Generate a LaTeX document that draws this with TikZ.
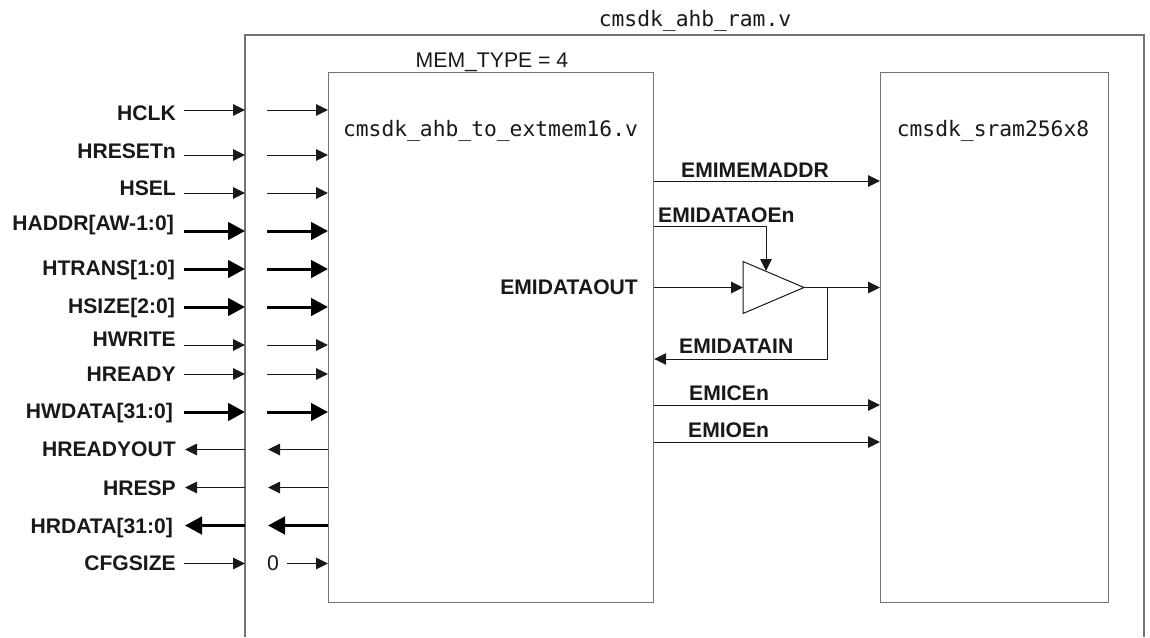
\documentclass[tikz,border=0pt]{standalone}
\usepackage{fontspec}
\setmainfont{Liberation Sans}
\newfontfamily\vmono{DejaVu Sans Mono}
\usetikzlibrary{arrows.meta,calc}
\tikzset{
  x=1pt,y=-1pt,
  thinsig/.style={draw=black!90,line width=1pt,-{Triangle[length=12pt,width=11.5pt]}},
  thicksig/.style={draw=black,line width=3pt,-{Triangle[length=17pt,width=17.5pt]}},
  wire/.style={draw=black!90,line width=1pt},
  boxframe/.style={draw=black!55,line width=1.2pt,fill=white,rectangle,inner sep=0pt,minimum width=#1,minimum height=530pt},
  outerframe/.style={draw=black!55,line width=1.5pt},
  sig/.style={font=\fontsize{21.1pt}{21pt}\selectfont\bfseries,text=black!90,inner sep=0pt},
  plain/.style={font=\fontsize{21.2pt}{21pt}\selectfont,text=black!90,inner sep=0pt},
  modname/.style={font=\fontsize{21.3pt}{21.3pt}\selectfont\vmono,text=black!90,inner sep=0pt},
  buf/.style={draw=black!90,line width=1pt,fill=white}
}
\begin{document}
\begin{tikzpicture}
\useasboundingbox (0,0) rectangle (1150,637);
\fill[white] (0,0) rectangle (1150,637);
% outer frame, open at the foot of the picture
\coordinate (oa) at (245,637);
\coordinate (ob) at (245,35);
\coordinate (oc) at (1144,35);
\coordinate (od) at (1144,637);
\draw[outerframe] (oa) -- (ob) -- (oc) -- (od);
% blocks
\node[boxframe=325pt,anchor=north west] (ext) at (328,72) {};
\node[boxframe=228pt,anchor=north west] (sram) at (880,72) {};
% titles
\node[modname,anchor=base] (tramv) at (695,26) {cmsdk\_ahb\_ram.v};
\node[modname,anchor=base] (text) at (490.5,136) {cmsdk\_ahb\_to\_extmem16.v};
\node[modname,anchor=base] (tsram) at (993,136) {cmsdk\_sram256x8};
\node[plain,anchor=base] (tmem) at (492,67) {MEM\_TYPE = 4};
% left-hand ports: #1 id, #2 y of wire, #3 baseline of label, #4 text, #5 style, #6 label right edge
\newcommand{\portin}[6]{%
  \node[sig,anchor=base east] (l#1) at (#6,#3) {#4};
  \coordinate (a#1) at (184,#2);
  \coordinate (b#1) at (245,#2);
  \coordinate (c#1) at (267,#2);
  \draw[#5] (a#1) -- (b#1);
  \draw[#5] (c#1) -- (c#1 -| ext.west);
}
\newcommand{\portout}[6]{%
  \node[sig,anchor=base east] (l#1) at (#6,#3) {#4};
  \coordinate (a#1) at (185,#2);
  \coordinate (b#1) at (245,#2);
  \coordinate (c#1) at (268,#2);
  \draw[#5] (b#1) -- (a#1);
  \draw[#5] (c#1 -| ext.west) -- (c#1);
}
\portin{clk}{110}{120}{HCLK}{thinsig}{176}
\portin{rst}{155}{158}{HRESETn}{thinsig}{176}
\portin{sel}{193}{195}{HSEL}{thinsig}{176}
\portin{addr}{231}{230}{HADDR[AW-1:0]}{thicksig}{174}
\portin{trans}{269}{275}{HTRANS[1:0]}{thicksig}{175}
\portin{size}{307}{313}{HSIZE[2:0]}{thicksig}{175}
\portin{write}{345}{346}{HWRITE}{thinsig}{176}
\portin{ready}{374}{381}{HREADY}{thinsig}{176}
\portin{wdata}{412}{418}{HWDATA[31:0]}{thicksig}{173}
\portout{rout}{449.5}{456}{HREADYOUT}{thinsig}{176}
\portout{resp}{487.5}{495}{HRESP}{thinsig}{176}
\portout{rdata}{525.5}{533}{HRDATA[31:0]}{thicksig}{173}
% CFGSIZE tied to 0
\node[sig,anchor=base east] (lcfg) at (176,570) {CFGSIZE};
\coordinate (acfg) at (184,563.5);
\coordinate (bcfg) at (245,563.5);
\draw[thinsig] (acfg) -- (bcfg);
\node[plain,anchor=base west] (zero) at (267,570) {0};
\coordinate (czero) at (287,563.5);
\draw[thinsig] (czero) -- (czero -| ext.west);
% right-hand signals
\coordinate (ymem) at (700,181);
\draw[thinsig] (ymem -| ext.east) -- (ymem -| sram.west);
\node[sig,anchor=base west] (lmem) at (681,177) {EMIMEMADDR};
\coordinate (yce) at (700,405);
\draw[thinsig] (yce -| ext.east) -- (yce -| sram.west);
\node[sig,anchor=base west] (lce) at (689,400) {EMICEn};
\coordinate (yoe) at (700,442);
\draw[thinsig] (yoe -| ext.east) -- (yoe -| sram.west);
\node[sig,anchor=base west] (loe) at (688,437) {EMIOEn};
% tristate buffer
\coordinate (ba) at (743,261.5);
\coordinate (bb) at (743,313.5);
\coordinate (bt) at (804,287.5);
\coordinate (bi) at (743,287.5);
\coordinate (bn) at (766,271);
\coordinate (oel) at (700,226);
\coordinate (fb) at (827,287.5);
\coordinate (fbl) at (827,359);
\draw[thinsig] (bi -| ext.east) -- (bi);
\draw[thinsig] (oel -| ext.east) -- (oel -| bn) -- (bn);
\draw[buf] (ba) -- (bt) -- (bb) -- cycle;
\draw[thinsig] (bt) -- (bt -| sram.west);
\draw[thinsig] (fb) -- (fbl) -- (fbl -| ext.east);
\node[sig,anchor=base west] (loen) at (658,222) {EMIDATAOEn};
\node[sig,anchor=base east] (lout) at (638,294) {EMIDATAOUT};
\node[sig,anchor=base west] (lin) at (679,353) {EMIDATAIN};
\end{tikzpicture}
\end{document}
